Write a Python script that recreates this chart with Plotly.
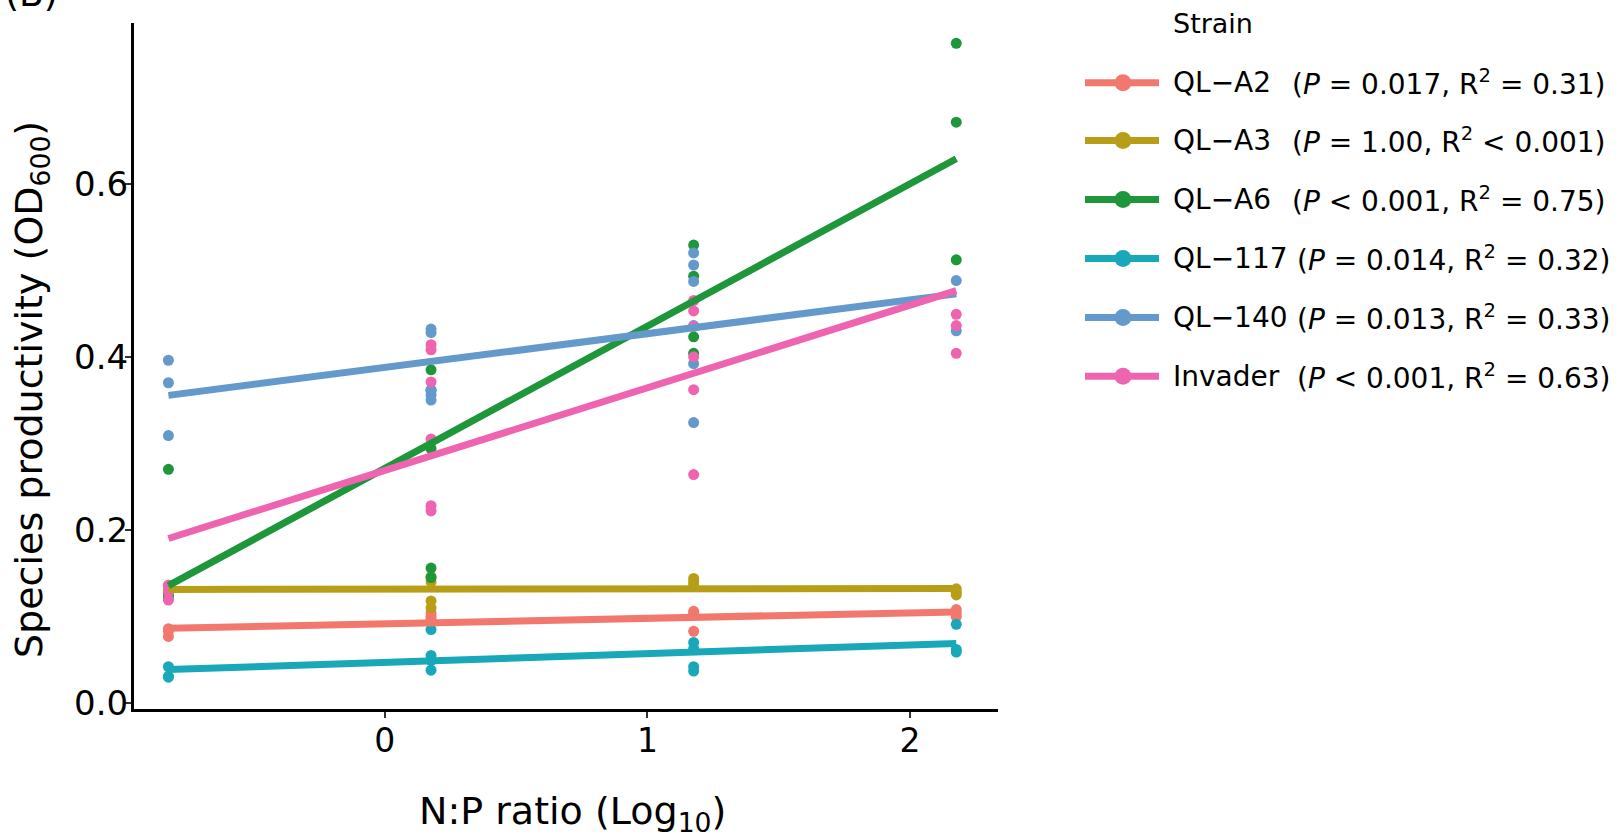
import numpy as np
import plotly.graph_objects as go

# ---------------- data ----------------
np_ratio = [0.15, 1.5, 15, 150]          # N:P ratio levels (x = log10)
strains = ["QL\u2212A2", "QL\u2212A3", "QL\u2212A6", "QL\u2212117", "QL\u2212140", "Invader"]
stats_text = [
    "(<i>P</i> = 0.017, R<sup>2</sup> = 0.31)",
    "(<i>P</i> = 1.00, R<sup>2</sup> &lt; 0.001)",
    "(<i>P</i> &lt; 0.001, R<sup>2</sup> = 0.75)",
    "(<i>P</i> = 0.014, R<sup>2</sup> = 0.32)",
    "(<i>P</i> = 0.013, R<sup>2</sup> = 0.33)",
    "(<i>P</i> &lt; 0.001, R<sup>2</sup> = 0.63)",
]
colors = ["#F2786E", "#B89E16", "#1E963A", "#19A8BA", "#6399CB", "#EF64B0"]

# productivity (OD600) per N:P level, one list per level
ql_a2 = [[0.083, 0.077, 0.086], [0.100, 0.097, 0.104], [0.106, 0.103, 0.083], [0.108, 0.104, 0.100]]
ql_a3 = [[0.136, 0.131, 0.127], [0.146, 0.140, 0.118, 0.110], [0.144, 0.140, 0.136], [0.128, 0.125, 0.132]]
ql_a6 = [[0.270, 0.125, 0.121], [0.385, 0.361, 0.294, 0.156, 0.145], [0.529, 0.493, 0.423, 0.404], [0.762, 0.671, 0.512]]
ql_117 = [[0.042, 0.030, 0.031], [0.085, 0.055, 0.049, 0.038], [0.070, 0.063, 0.042, 0.037], [0.091, 0.059, 0.062]]
ql_140 = [[0.396, 0.370, 0.309], [0.432, 0.428, 0.362, 0.356, 0.350], [0.520, 0.506, 0.487, 0.436, 0.392, 0.324], [0.488, 0.430]]
invader = [[0.136, 0.119, 0.128], [0.414, 0.408, 0.371, 0.305, 0.228, 0.222], [0.465, 0.453, 0.435, 0.400, 0.362, 0.264], [0.449, 0.436, 0.404]]

series = [ql_a2, ql_a3, ql_a6, ql_117, ql_140, invader]

y_ticks = [0.0, 0.2, 0.4, 0.6]
x_ticks = [0, 1, 2]

# ---------------- layout geometry (pixels) ----------------
W, H = 1621, 840
L, R, T, B = 134, 623, 23, 131
PW, PH = W - L - R, H - T - B
FONT = "DejaVu Sans"


def px_x(p):
    return (p - L) / PW


def px_y(p):
    return (H - B - p) / PH


fig = go.Figure()
log_x = np.log10(np_ratio)


def flatten(data):
    xs, ys = [], []
    for xv, vals in zip(log_x, data):
        xs += [xv] * len(vals)
        ys += vals
    return np.array(xs), np.array(ys)


# points
for name, col, data in zip(strains, colors, series):
    xs, ys = flatten(data)
    fig.add_trace(go.Scatter(x=xs, y=ys, mode="markers", showlegend=False,
                             marker=dict(size=11, color=col, line=dict(width=0)),
                             name=name, hoverinfo="skip"))

# regression lines (least squares fit of each strain)
for name, col, data in zip(strains, colors, series):
    xs, ys = flatten(data)
    k, b = np.polyfit(xs, ys, 1)
    xl = np.array([xs.min(), xs.max()])
    fig.add_trace(go.Scatter(x=xl, y=k * xl + b, mode="lines", showlegend=False,
                             line=dict(color=col, width=7), name=name, hoverinfo="skip"))

# ---------------- custom legend ----------------
annotations = []
shapes = []
LEG_SIZE = 28
annotations.append(dict(text="Strain", x=px_x(1171), y=px_y(23), xref="paper", yref="paper",
                        xanchor="left", yanchor="middle", showarrow=False,
                        font=dict(family=FONT, size=27, color="black")))
row_y = [82.7, 140.6, 199.5, 258.5, 317.4, 376.3]
stat_x = [1290, 1290, 1290, 1295, 1295, 1295]
for name, col, st, ry, sx in zip(strains, colors, stats_text, row_y, stat_x):
    shapes.append(dict(type="line", xref="paper", yref="paper",
                       x0=px_x(1085), x1=px_x(1159), y0=px_y(ry), y1=px_y(ry),
                       line=dict(color=col, width=7)))
    shapes.append(dict(type="circle", xref="paper", yref="paper",
                       xsizemode="pixel", ysizemode="pixel",
                       xanchor=px_x(1123), yanchor=px_y(ry),
                       x0=-8.5, x1=8.5, y0=-8.5, y1=8.5,
                       fillcolor=col, line=dict(width=0)))
    annotations.append(dict(text=name, x=px_x(1171), y=px_y(ry), xref="paper", yref="paper",
                            xanchor="left", yanchor="middle", showarrow=False,
                            font=dict(family=FONT, size=LEG_SIZE, color="black")))
    annotations.append(dict(text=st, x=px_x(sx), y=px_y(ry), xref="paper", yref="paper",
                            xanchor="left", yanchor="middle", showarrow=False,
                            font=dict(family=FONT, size=LEG_SIZE, color="black")))

# axis titles and panel tag
annotations.append(dict(text="N:P ratio (Log<sub>10</sub>)", x=px_x(572), y=px_y(813),
                        xref="paper", yref="paper", xanchor="center", yanchor="middle",
                        showarrow=False, font=dict(family=FONT, size=38, color="black")))
annotations.append(dict(text="Species productivity (OD<sub>600</sub>)", x=px_x(31), y=px_y(390),
                        xref="paper", yref="paper", xanchor="center", yanchor="middle",
                        textangle=-90, showarrow=False,
                        font=dict(family=FONT, size=38, color="black")))
annotations.append(dict(text="(B)", x=px_x(3), y=px_y(16), xref="paper", yref="paper",
                        xanchor="left", yanchor="bottom", showarrow=False,
                        font=dict(family=FONT, size=36, color="black")))

fig.update_layout(
    width=W, height=H,
    margin=dict(l=L, r=R, t=T, b=B, autoexpand=False),
    paper_bgcolor="white", plot_bgcolor="white",
    showlegend=False,
    annotations=annotations, shapes=shapes,
    font=dict(family=FONT, color="black"),
)
fig.update_xaxes(range=[-0.955, 2.335], tickvals=x_ticks, showgrid=False, zeroline=False,
                 showline=True, linecolor="black", linewidth=3,
                 ticks="outside", ticklen=6, tickwidth=2, tickcolor="#333333",
                 ticklabelstandoff=-6,
                 tickfont=dict(family=FONT, size=33, color="black"))
fig.update_yaxes(range=[-0.0068, 0.7855], tickvals=y_ticks, tickformat=".1f",
                 showgrid=False, zeroline=False,
                 showline=True, linecolor="black", linewidth=3,
                 ticks="outside", ticklen=6, tickwidth=2, tickcolor="#333333",
                 ticklabelstandoff=-10,
                 tickfont=dict(family=FONT, size=34, color="black"))

fig.write_html("out.html", config={"displayModeBar": False},
               post_script="document.body.style.margin='0px';document.body.style.overflow='hidden';")
